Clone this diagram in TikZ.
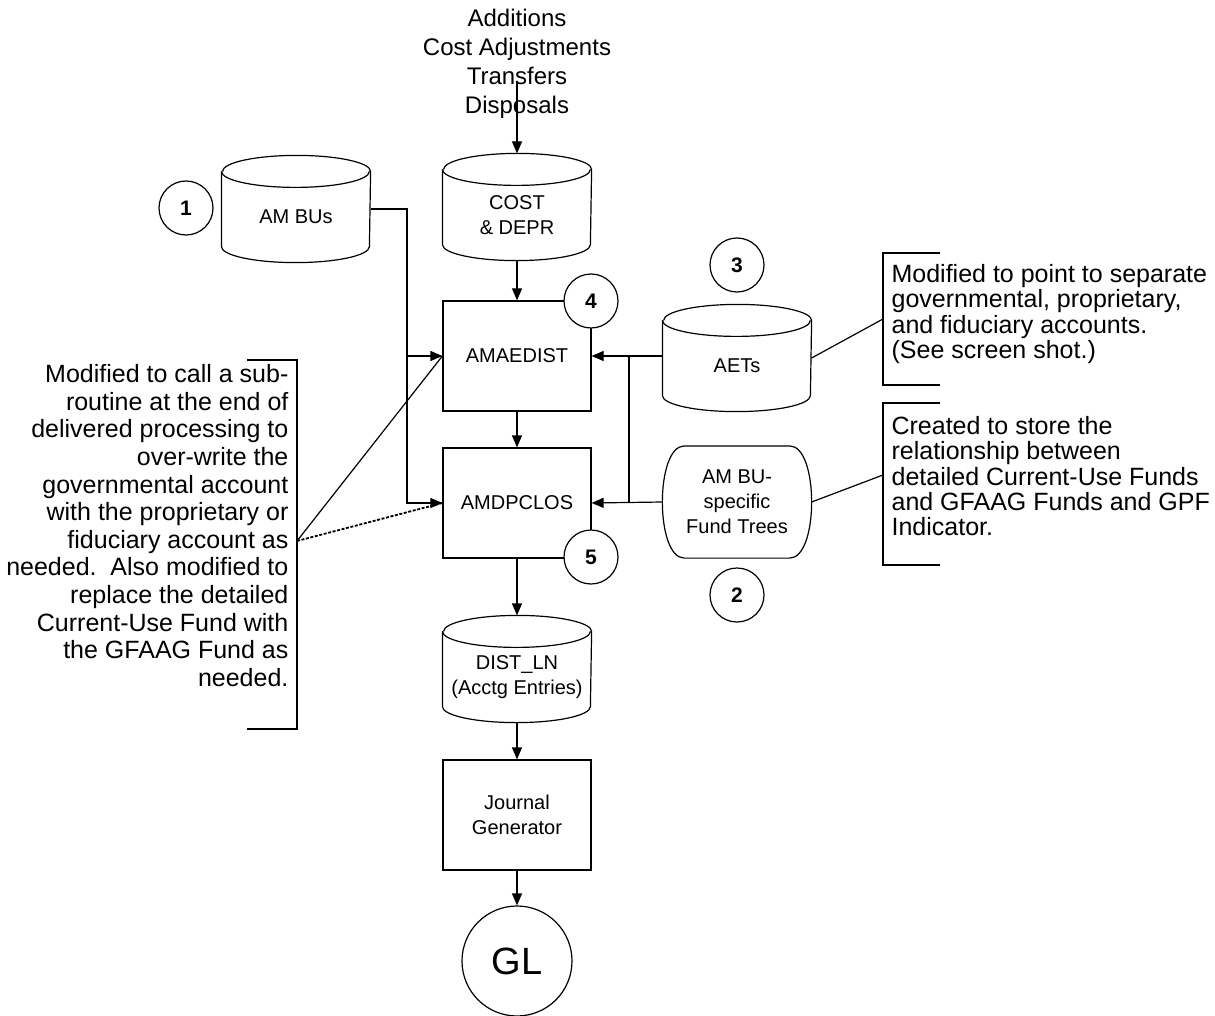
\documentclass[tikz,border=0pt]{standalone}
\usepackage{fontspec}
\setmainfont{Liberation Sans}
\usetikzlibrary{arrows.meta}

% outline of a data store drawn round a body node
\newcommand{\dbshape}[1]{%
  \draw ([yshift=8pt]#1.north west) -- (#1.south west)
    arc[start angle=180,end angle=360,x radius=37pt,y radius=8pt]
    -- ([yshift=8pt]#1.north east)
    arc[start angle=0,end angle=180,x radius=37pt,y radius=8pt];
  \draw ([yshift=8pt]#1.north west)
    arc[start angle=180,end angle=360,x radius=37pt,y radius=8pt];}
% outline with bulging sides
\newcommand{\bulgeshape}[1]{%
  \draw ([xshift=11pt]#1.north west) -- ([xshift=-11pt]#1.north east)
    .. controls ([xshift=3.7pt]#1.north east) and ([xshift=3.7pt]#1.south east)
    .. ([xshift=-11pt]#1.south east) -- ([xshift=11pt]#1.south west)
    .. controls ([xshift=-3.7pt]#1.south west) and ([xshift=-3.7pt]#1.north west)
    .. cycle;}

\begin{document}
\begin{tikzpicture}[x=0.5pt,y=-0.5pt,line width=0.6pt,
  >={Triangle[length=6pt,width=5pt]},
  proc/.style={draw,minimum width=74pt,minimum height=55pt,inner sep=0pt,
               align=center,font=\fontsize{10}{12.5}\selectfont},
  db/.style={minimum width=74pt,minimum height=29pt,inner sep=0pt,
             align=center,font=\fontsize{10}{12.5}\selectfont},
  num/.style={circle,draw,fill=white,minimum size=27pt,inner sep=0pt,
              font=\fontsize{10.5}{12}\selectfont\bfseries},
  note/.style={inner sep=0pt,font=\fontsize{12.5}{12.6}\selectfont}]
  \useasboundingbox (0,0) rectangle (1215,1016);

  % main processing chain
  \node[align=center,font=\fontsize{12}{14.5}\selectfont,anchor=north]
    (inputs) at (517,2) {Additions\\Cost Adjustments\\Transfers\\Disposals};
  \coordinate (inflow) at (517,82);
  \node[db] (cost) at (517,215) {COST\\\& DEPR};
  \node[db] (ambus) at (296,217) {AM BUs};
  \node[proc] (amaedist) at (517,356) {AMAEDIST};
  \node[proc] (amdpclos) at (517,503) {AMDPCLOS};
  \node[db] (aets) at (737,366) {AETs};
  \node[proc,draw=none,minimum height=55.5pt] (fund) at (737,502)
    {AM BU-\\specific\\Fund Trees};
  \node[db] (distln) at (517,677) {DIST\_LN\\(Acctg Entries)};
  \node[proc] (jgen) at (517,815) {Journal\\Generator};
  \node[circle,draw,minimum size=55pt,inner sep=0pt,
        font=\fontsize{19}{22}\selectfont] (gl) at (517,961) {GL};
  \foreach \n in {cost,ambus,aets,distln} \dbshape{\n};
  \bulgeshape{fund}

  \draw[->] (inflow) -- ([yshift=16pt]cost.north);
  \draw[->] ([yshift=-8pt]cost.south) -- (amaedist);
  \draw[->] (amaedist) -- (amdpclos);
  \draw[->] (amdpclos) -- ([yshift=16pt]distln.north);
  \draw[->] ([yshift=-8pt]distln.south) -- (jgen);
  \draw[->] (jgen) -- (gl);

  % feeds from the left and right stores
  \coordinate (bx) at (407,0);
  \coordinate (rx) at (629,0);
  \draw[->] ([yshift=4pt]ambus.east) -| (bx |- amdpclos.west) -- (amdpclos.west);
  \draw[->] (bx |- amaedist.west) -- (amaedist.west);
  \draw[->] (aets.west |- amaedist.east) -- (amaedist.east);
  \draw[->] (fund.west) -- (amdpclos.east);
  \draw (rx |- amaedist.east) -- (rx |- amdpclos.east);

  % numbered markers
  \node[num] (n1) at (186,208) {1};
  \node[num] (n2) at (737,595) {2};
  \node[num] (n3) at (737,265) {3};
  \node[num] (n4) at (591,301) {4};
  \node[num] (n5) at (591,557) {5};

  % annotations
  \node[note,align=right,anchor=north east,font=\fontsize{12.5}{13.8}\selectfont]
    (noteproc) at (289,364)
    {Modified to call a sub-\\routine at the end of\\delivered processing to\\
     over-write the\\governmental account\\with the proprietary or\\
     fiduciary account as\\needed.\ \ Also modified to\\replace the detailed\\
     Current-Use Fund with\\the GFAAG Fund as\\needed.};
  \draw (247,360) -| (297,729) -- (247,729);
  \coordinate (tipproc) at (297,541);
  \draw (tipproc) -- (amaedist.west);
  \draw[line width=0.9pt,dash pattern=on 1.5pt off 0.8pt] (tipproc) -- (amdpclos.west);

  \node[note,align=left,anchor=north west] (noteaets) at (891,264)
    {Modified to point to separate\\governmental, proprietary,\\
     and fiduciary accounts.\\(See screen shot.)};
  \draw (940,253) -| (883,385) -- (940,385);
  \coordinate (tipaets) at (883,319);
  \draw ([yshift=4pt]aets.east) -- (tipaets);

  \node[note,align=left,anchor=north west] (notefund) at (891,416)
    {Created to store the\\relationship between\\
     detailed Current-Use Funds\\and GFAAG Funds and GPF\\Indicator.};
  \draw (940,403) -| (883,565) -- (940,565);
  \coordinate (tipfund) at (883,475);
  \draw (fund.east) -- (tipfund);
\end{tikzpicture}
\end{document}
